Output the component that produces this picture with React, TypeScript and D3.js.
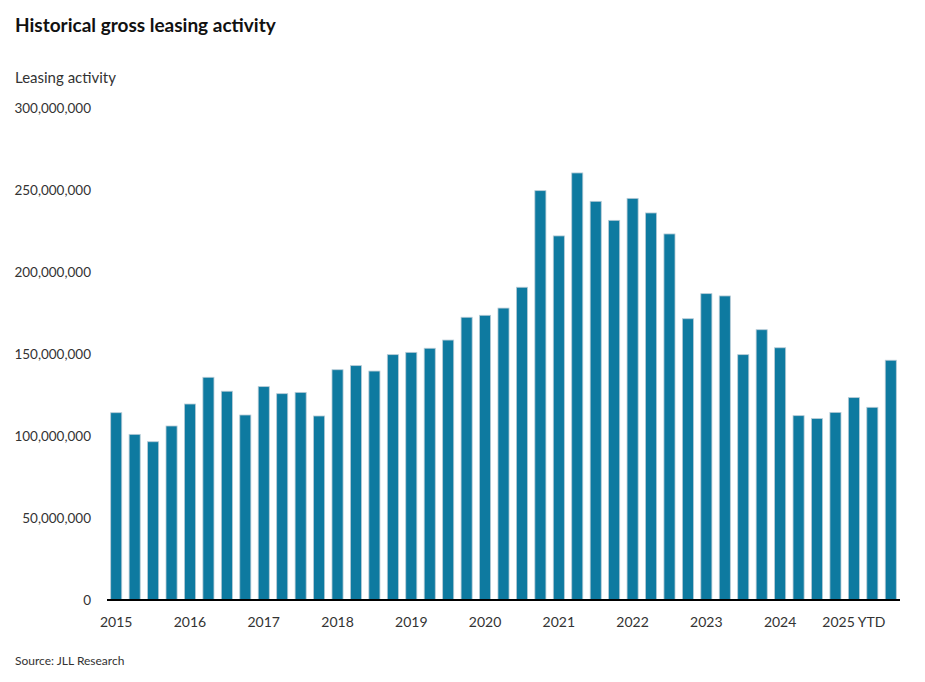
import { useEffect, useRef } from 'react';
import * as d3 from 'd3';

// quarterly gross leasing activity, 2015 Q1 – 2025 Q3
const years = ['2015', '2016', '2017', '2018', '2019', '2020', '2021', '2022', '2023', '2024', '2025'];
const quarters = ['Q1', 'Q2', 'Q3', 'Q4'];
const values = [
  114.2, 101.0, 96.5, 106.1,
  119.5, 135.8, 127.3, 112.8,
  130.1, 125.8, 126.6, 112.2,
  140.4, 142.9, 139.6, 149.6,
  151.0, 153.5, 158.5, 172.4,
  173.6, 178.0, 190.7, 249.6,
  222.0, 260.4, 243.1, 231.5,
  244.9, 236.0, 223.2, 171.5,
  186.8, 185.4, 149.6, 164.8,
  153.8, 112.4, 110.6, 114.4,
  123.4, 117.5, 146.2,
].map((v) => v * 1e6);
const yTicks = [0, 50e6, 100e6, 150e6, 200e6, 250e6, 300e6];
const yearLabels: Record<string, string> = { '2025': '2025 YTD' };

const W = 925;
const H = 682;
const FONT = 'Lato, "Source Sans Pro", sans-serif';

export default function App() {
  const svgRef = useRef<SVGSVGElement>(null);

  useEffect(() => {
    document.body.style.margin = '0';
    if (!svgRef.current) return;

    const svg = d3.select(svgRef.current);
    svg.selectAll('*').remove();

    const left = 107;
    const right = 900;
    const top = 108;
    const bottom = 600;

    const keys = values.map((_, i) => `${years[Math.floor(i / 4)]}-${quarters[i % 4]}`);

    const x = d3.scaleBand<string>().domain(keys).range([left, right]).paddingInner(0.4).paddingOuter(0.2);
    const y = d3.scaleLinear().domain([0, 300e6]).range([bottom, top]);

    svg.append('rect').attr('width', W).attr('height', H).attr('fill', '#fff');

    // title + axis caption
    svg.append('text')
      .attr('x', 15)
      .attr('y', 32)
      .attr('font-family', FONT)
      .attr('font-size', '19px')
      .attr('font-weight', 700)
      .attr('fill', '#111')
      .text('Historical gross leasing activity');

    svg.append('text')
      .attr('x', 15)
      .attr('y', 83)
      .attr('font-family', FONT)
      .attr('font-size', '15px')
      .attr('fill', '#333')
      .text('Leasing activity');

    // y tick labels
    const fmt = d3.format(',');
    svg.append('g')
      .selectAll('text')
      .data(yTicks)
      .enter()
      .append('text')
      .attr('x', 91)
      .attr('y', (d) => y(d))
      .attr('dy', '0.35em')
      .attr('text-anchor', 'end')
      .attr('font-family', FONT)
      .attr('font-size', '13.5px')
      .attr('fill', '#333')
      .text((d) => fmt(d));

    // bars
    svg.append('g')
      .selectAll('rect')
      .data(values)
      .enter()
      .append('rect')
      .attr('x', (_, i) => x(keys[i]) as number)
      .attr('y', (d) => y(d))
      .attr('width', x.bandwidth())
      .attr('height', (d) => bottom - y(d))
      .attr('fill', '#0e7aa0')
      .attr('stroke', '#b7cbd6')
      .attr('stroke-width', 0.8);

    // baseline
    svg.append('line')
      .attr('x1', left)
      .attr('x2', right)
      .attr('y1', bottom)
      .attr('y2', bottom)
      .attr('stroke', '#000')
      .attr('stroke-width', 2);

    // year labels under each Q1 bar
    svg.append('g')
      .selectAll('text')
      .data(years)
      .enter()
      .append('text')
      .attr('x', (d) => (x(`${d}-Q1`) as number) + x.bandwidth() / 2)
      .attr('y', 627)
      .attr('text-anchor', 'middle')
      .attr('font-family', FONT)
      .attr('font-size', '14px')
      .attr('fill', '#333')
      .text((d) => yearLabels[d] ?? d);

    svg.append('text')
      .attr('x', 15)
      .attr('y', 665)
      .attr('font-family', FONT)
      .attr('font-size', '12px')
      .attr('fill', '#333')
      .text('Source: JLL Research');
  }, []);

  return <svg ref={svgRef} width={W} height={H} style={{ display: 'block' }} />;
}
